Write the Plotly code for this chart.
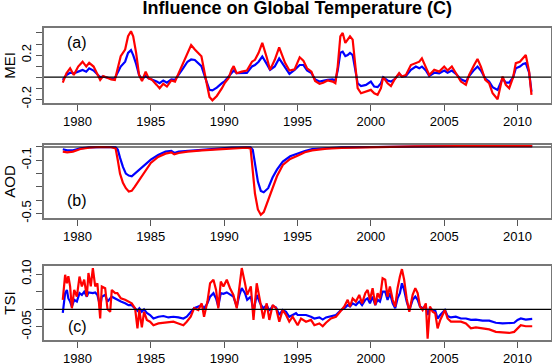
"""
Influence on global temperature of ENSO (MEI), volcanic aerosols (AOD) and solar (TSI).
"""
import plotly.graph_objects as go
from plotly.subplots import make_subplots

# panel (a): MEI influence
years_mei = [1979.0, 1979.25, 1979.5, 1979.75, 1980.05, 1980.35, 1980.6, 1980.8, 1981.1, 1981.3,
             1981.55, 1981.75, 1982.0, 1982.3, 1982.55, 1982.7, 1982.95, 1983.25, 1983.45, 1983.65,
             1983.8, 1984.0, 1984.2, 1984.4, 1984.65, 1984.85, 1985.05, 1985.4, 1985.6, 1985.85,
             1986.1, 1986.4, 1986.65, 1986.9, 1987.2, 1987.5, 1987.75, 1988.0, 1988.25, 1988.45,
             1988.8, 1989.0, 1989.2, 1989.5, 1989.85, 1990.05, 1990.3, 1990.5, 1990.65, 1990.85,
             1991.2, 1991.55, 1991.9, 1992.1, 1992.35, 1992.6, 1992.9, 1993.13, 1993.45, 1993.75,
             1993.95, 1994.15, 1994.45, 1994.8, 1995.15, 1995.4, 1995.65, 1995.95, 1996.2, 1996.5,
             1996.75, 1997.05, 1997.4, 1997.58, 1997.74, 1997.92, 1998.08, 1998.26, 1998.42, 1998.58,
             1998.76, 1998.94, 1999.1, 1999.33, 1999.67, 2000.0, 2000.23, 2000.46, 2000.69, 2000.84,
             2001.14, 2001.37, 2001.6, 2001.93, 2002.12, 2002.39, 2002.73, 2003.07, 2003.3, 2003.48,
             2003.75, 2003.98, 2004.32, 2004.66, 2005.0, 2005.23, 2005.52, 2005.8, 2006.14, 2006.48,
             2006.7, 2007.04, 2007.27, 2007.5, 2007.8, 2008.06, 2008.3, 2008.64, 2008.8, 2008.98,
             2009.2, 2009.43, 2009.7, 2009.88, 2010.16, 2010.38, 2010.56, 2010.79, 2010.95]
mei_red = [-0.05, 0.036, 0.08, 0.02, 0.096, 0.14, 0.096, 0.13, 0.096, 0.04,
           -0.025, 0.01, -0.005, -0.02, -0.025, 0.05, 0.19, 0.25, 0.37, 0.415,
           0.37, 0.22, 0.02, -0.035, 0.05, -0.01, -0.02, -0.07, -0.1, -0.06,
           -0.085, -0.03, -0.04, 0.036, 0.127, 0.22, 0.29, 0.25, 0.22, 0.19,
           -0.05, -0.18, -0.21, -0.17, -0.1, -0.05, -0.01, 0.066, 0.1, 0.036,
           0.05, 0.06, 0.14, 0.157, 0.22, 0.31, 0.18, 0.066, 0.157, 0.27,
           0.2, 0.13, 0.06, 0.07, 0.18, 0.15, 0.08, 0.05, -0.035, -0.06,
           -0.05, -0.03, -0.04, -0.055, 0.096, 0.37, 0.4, 0.31, 0.34, 0.37,
           0.34, 0.096, -0.1, -0.146, -0.13, -0.115, -0.146, -0.16, -0.1, 0.0,
           -0.055, -0.08, -0.025, 0.036, 0.005, 0.02, 0.11, 0.127, 0.14, 0.17,
           0.08, 0.02, 0.066, 0.05, 0.096, 0.06, 0.096, 0.036, -0.04, -0.07,
           0.02, 0.11, 0.165, 0.096, -0.025, -0.055, -0.146, -0.2, -0.115, 0.005,
           -0.07, -0.1, 0.0, 0.127, 0.14, 0.17, 0.2, 0.05, -0.16]
mei_blue = [-0.025, 0.02, 0.04, 0.035, 0.05, 0.065, 0.05, 0.08, 0.06, 0.035,
            0.0, 0.005, 0.0, -0.012, -0.01, 0.03, 0.096, 0.14, 0.22, 0.245,
            0.2, 0.12, 0.02, -0.02, 0.01, -0.01, -0.02, -0.04, -0.055, -0.03,
            -0.05, -0.02, -0.025, 0.02, 0.08, 0.14, 0.16, 0.155, 0.127, 0.1,
            -0.04, -0.115, -0.12, -0.095, -0.055, -0.035, 0.005, 0.036, 0.06, 0.036,
            0.035, 0.038, 0.097, 0.11, 0.14, 0.187, 0.12, 0.066, 0.097, 0.17,
            0.13, 0.09, 0.03, 0.066, 0.11, 0.11, 0.06, 0.036, -0.02, -0.04,
            -0.03, -0.025, -0.02, -0.03, 0.06, 0.22, 0.23, 0.19, 0.2, 0.22,
            0.2, 0.066, -0.055, -0.08, -0.07, -0.04, -0.085, -0.09, -0.055, 0.0,
            -0.03, -0.04, -0.02, 0.03, 0.005, 0.01, 0.066, 0.096, 0.08, 0.096,
            0.06, 0.01, 0.04, 0.035, 0.06, 0.04, 0.06, 0.03, -0.02, -0.04,
            0.01, 0.066, 0.096, 0.06, -0.012, -0.04, -0.09, -0.115, -0.07, -0.01,
            -0.05, -0.05, 0.0, 0.08, 0.096, 0.12, 0.127, 0.04, -0.13]

# panel (b): volcanic aerosol influence
years_aod = [1979.0, 1979.3, 1979.7, 1980.2, 1980.8, 1981.5, 1982.3, 1982.6, 1982.75, 1982.9,
             1983.1, 1983.3, 1983.5, 1983.7, 1983.9, 1984.2, 1984.6, 1985.0, 1985.5, 1986.0,
             1986.4, 1986.6, 1986.9, 1987.5, 1988.5, 1989.5, 1990.5, 1991.5, 1991.8, 1991.95,
             1992.1, 1992.3, 1992.5, 1992.7, 1993.0, 1993.3, 1993.6, 1994.0, 1994.5, 1995.0,
             1995.5, 1996.0, 1997.0, 1998.0, 2000.0, 2003.0, 2006.0, 2011.0]
aod_red = [-0.035, -0.04, -0.035, -0.015, -0.005, 0.0, -0.002, -0.01, -0.1, -0.2,
           -0.27, -0.31, -0.335, -0.33, -0.3, -0.25, -0.18, -0.12, -0.075, -0.05,
           -0.04, -0.055, -0.045, -0.035, -0.025, -0.02, -0.01, -0.005, -0.01, -0.2,
           -0.35, -0.47, -0.51, -0.49, -0.4, -0.3, -0.22, -0.135, -0.09, -0.065,
           -0.04, -0.025, -0.012, -0.006, 0.0, 0.004, 0.006, 0.007]
aod_blue = [-0.017, -0.025, -0.025, -0.01, -0.003, 0.0, 0.0, -0.002, -0.02, -0.08,
            -0.15, -0.2, -0.215, -0.22, -0.2, -0.17, -0.13, -0.095, -0.06, -0.035,
            -0.03, -0.045, -0.035, -0.03, -0.02, -0.01, -0.005, -0.002, -0.003, -0.02,
            -0.12, -0.26, -0.33, -0.34, -0.31, -0.23, -0.17, -0.11, -0.07, -0.047,
            -0.03, -0.015, -0.008, -0.003, 0.0, 0.004, 0.006, 0.007]

# panel (c): solar influence
years_tsi = [1979.0, 1979.16, 1979.28, 1979.38, 1979.5, 1979.62, 1979.78, 1979.96, 1980.14, 1980.3,
             1980.46, 1980.64, 1980.75, 1980.91, 1981.05, 1981.21, 1981.36, 1981.55, 1981.66, 1981.89,
             1982.05, 1982.23, 1982.34, 1982.57, 1982.72, 1982.96, 1983.25, 1983.48, 1983.7, 1983.93,
             1984.09, 1984.22, 1984.39, 1984.54, 1984.73, 1984.95, 1985.18, 1985.52, 1985.86, 1986.2,
             1986.54, 1986.88, 1987.22, 1987.45, 1987.72, 1987.95, 1988.24, 1988.47, 1988.63, 1988.86,
             1989.04, 1989.27, 1989.45, 1989.6, 1989.77, 1989.95, 1990.18, 1990.4, 1990.63, 1990.86,
             1991.04, 1991.2, 1991.42, 1991.57, 1991.82, 1992.0, 1992.22, 1992.45, 1992.67, 1992.9,
             1993.08, 1993.31, 1993.54, 1993.76, 1993.99, 1994.22, 1994.44, 1994.67, 1994.9, 1995.01,
             1995.24, 1995.58, 1995.92, 1996.15, 1996.49, 1996.72, 1996.94, 1997.28, 1997.62, 1997.96,
             1998.19, 1998.42, 1998.58, 1998.76, 1998.98, 1999.21, 1999.4, 1999.62, 1999.78, 1999.94,
             2000.12, 2000.3, 2000.46, 2000.62, 2000.8, 2000.98, 2001.14, 2001.3, 2001.49, 2001.66,
             2001.82, 2001.98, 2002.12, 2002.27, 2002.44, 2002.62, 2002.85, 2003.03, 2003.19, 2003.35,
             2003.53, 2003.75, 2003.87, 2004.03, 2004.21, 2004.39, 2004.55, 2004.73, 2004.89, 2005.05,
             2005.23, 2005.46, 2005.79, 2006.14, 2006.48, 2006.82, 2007.16, 2007.61, 2008.07, 2008.52,
             2008.98, 2009.43, 2009.77, 2010.0, 2010.22, 2010.56, 2010.9, 2011.0]
tsi_red = [0.027, 0.098, 0.074, 0.094, 0.065, 0.003, 0.055, 0.036, 0.093, 0.065,
           0.084, 0.036, 0.103, 0.065, 0.117, 0.065, 0.074, -0.026, 0.065, 0.06,
           0.0, -0.007, 0.055, 0.046, 0.046, 0.031, 0.027, 0.022, 0.017, 0.003,
           -0.054, -0.002, -0.051, -0.007, -0.03, -0.035, -0.045, -0.04, -0.038, -0.035,
           -0.035, -0.04, -0.045, -0.035, -0.021, 0.003, -0.002, 0.017, -0.021, 0.022,
           0.074, 0.084, 0.055, 0.003, 0.079, 0.065, 0.084, 0.06, 0.041, 0.003,
           0.074, 0.117, 0.074, 0.041, 0.065, -0.03, 0.074, 0.017, -0.026, 0.017,
           -0.03, 0.012, 0.003, -0.035, -0.002, -0.016, -0.035, -0.021, -0.035, -0.045,
           -0.026, -0.035, -0.03, -0.045, -0.04, -0.048, -0.038, -0.026, -0.021, -0.002,
           0.008, 0.027, 0.008, 0.031, 0.022, 0.041, 0.017, 0.046, 0.055, 0.027,
           0.06, 0.012, 0.046, 0.031, 0.088, 0.084, 0.036, 0.065, 0.027, 0.008,
           0.06, 0.093, 0.114, 0.084, 0.031, -0.007, 0.041, 0.06, 0.046, 0.008,
           -0.002, 0.017, -0.083, 0.008, -0.007, -0.011, -0.054, -0.03, -0.016, -0.002,
           -0.026, -0.035, -0.035, -0.035, -0.04, -0.054, -0.051, -0.054, -0.057, -0.064,
           -0.065, -0.067, -0.064, -0.054, -0.045, -0.048, -0.048, -0.048]
tsi_blue = [-0.01, 0.046, 0.055, 0.031, 0.022, 0.008, 0.027, 0.022, 0.046, 0.041,
            0.05, 0.036, 0.048, 0.046, 0.046, 0.048, 0.041, 0.008, 0.036, 0.041,
            0.022, 0.031, 0.036, 0.031, 0.027, 0.022, 0.017, 0.012, 0.012, 0.003,
            -0.004, 0.003, -0.007, 0.0, -0.01, -0.016, -0.026, -0.021, -0.019, -0.023,
            -0.021, -0.023, -0.026, -0.021, -0.007, 0.003, 0.008, 0.012, 0.003, 0.017,
            0.036, 0.046, 0.031, 0.008, 0.046, 0.044, 0.048, 0.041, 0.036, 0.008,
            0.041, 0.06, 0.046, 0.027, 0.036, -0.007, 0.041, 0.017, 0.003, 0.012,
            -0.004, 0.01, 0.005, -0.016, -0.002, -0.007, -0.021, -0.016, -0.011, -0.016,
            -0.016, -0.016, -0.021, -0.026, -0.023, -0.029, -0.023, -0.019, -0.016, -0.002,
            0.003, 0.012, 0.008, 0.017, 0.012, 0.022, 0.012, 0.027, 0.031, 0.017,
            0.036, 0.012, 0.027, 0.022, 0.05, 0.05, 0.027, 0.046, 0.017, 0.003,
            0.031, 0.046, 0.074, 0.055, 0.022, -0.002, 0.027, 0.036, 0.027, 0.008,
            0.003, 0.008, -0.016, 0.003, -0.002, -0.004, -0.026, -0.016, -0.01, -0.002,
            -0.019, -0.023, -0.021, -0.026, -0.026, -0.03, -0.029, -0.032, -0.032, -0.038,
            -0.04, -0.04, -0.038, -0.03, -0.026, -0.029, -0.026, -0.027]

x_ticks = [1980, 1985, 1990, 1995, 2000, 2005, 2010]

panels = [
    (years_mei, mei_red, mei_blue, "MEI", [-0.234, 0.445],
     [-0.2, -0.1, 0, 0.1, 0.2, 0.3, 0.4], ["-0.2", "", "", "", "0.2", "", ""], "(a)", 0.31),
    (years_aod, aod_red, aod_blue, "AOD", [-0.534, 0.015],
     [-0.5, -0.4, -0.3, -0.2, -0.1, 0], ["-0.5", "", "", "", "-0.1", ""], "(b)", -0.4),
    (years_tsi, tsi_red, tsi_blue, "TSI", [-0.087, 0.123],
     [-0.05, 0, 0.05, 0.1], ["-0.05", "", "", "0.10"], "(c)", -0.05),
]

fig = make_subplots(rows=3, cols=1)
domains = [[0.7596, 1.0], [0.391, 0.625], [0.0, 0.2372]]
font = "Liberation Sans, Arial, sans-serif"

for i, (yrs, red, blue, name, yr, tv, tt, lab, laby) in enumerate(panels):
    row = i + 1
    fig.add_trace(go.Scatter(x=yrs, y=blue, mode="lines", line=dict(color="#0000ff", width=2.2)),
                  row=row, col=1)
    fig.add_trace(go.Scatter(x=yrs, y=red, mode="lines", line=dict(color="#ff0000", width=2.2)),
                  row=row, col=1)
    sfx = "" if row == 1 else str(row)
    fig.add_shape(type="line", xref="x" + sfx + " domain", yref="y" + sfx,
                  x0=0, x1=1, y0=0, y1=0, line=dict(color="black", width=1.2))
    fig.add_annotation(x=1980, y=laby, xref="x" + sfx, yref="y" + sfx, text=lab,
                       showarrow=False, font=dict(size=16, color="black"))
    fig.update_xaxes(range=[1977.72, 2012.28], tickvals=x_ticks, ticks="outside", ticklen=6,
                     tickcolor="#555", showgrid=False, zeroline=False, showline=True,
                     linecolor="#777", linewidth=1.5, mirror=True, tickfont=dict(size=13),
                     automargin=False, row=row, col=1)
    fig.update_yaxes(range=yr, tickvals=tv, ticktext=tt, tickangle=-90, ticks="outside",
                     ticklen=6, tickcolor="#555", showgrid=False, zeroline=False, showline=True,
                     linecolor="#777", linewidth=1.5, mirror=True, tickfont=dict(size=13),
                     title=dict(text=name, font=dict(size=15), standoff=0),
                     automargin=False, domain=domains[i], row=row, col=1)

fig.update_layout(
    width=552, height=364,
    margin=dict(l=44, r=1, t=28, b=24),
    plot_bgcolor="white", paper_bgcolor="white",
    font=dict(family=font, color="black"),
    showlegend=False,
    title=dict(text="<b>Influence on Global Temperature (C)</b>", x=0.5385, xanchor="center",
               y=0.978, yanchor="middle", font=dict(size=18)),
)

# drop the default page margin so the figure sits at the window's top-left corner
fig.write_html("out.html", config={"displayModeBar": False},
               post_script="document.body.style.margin = '0';")
